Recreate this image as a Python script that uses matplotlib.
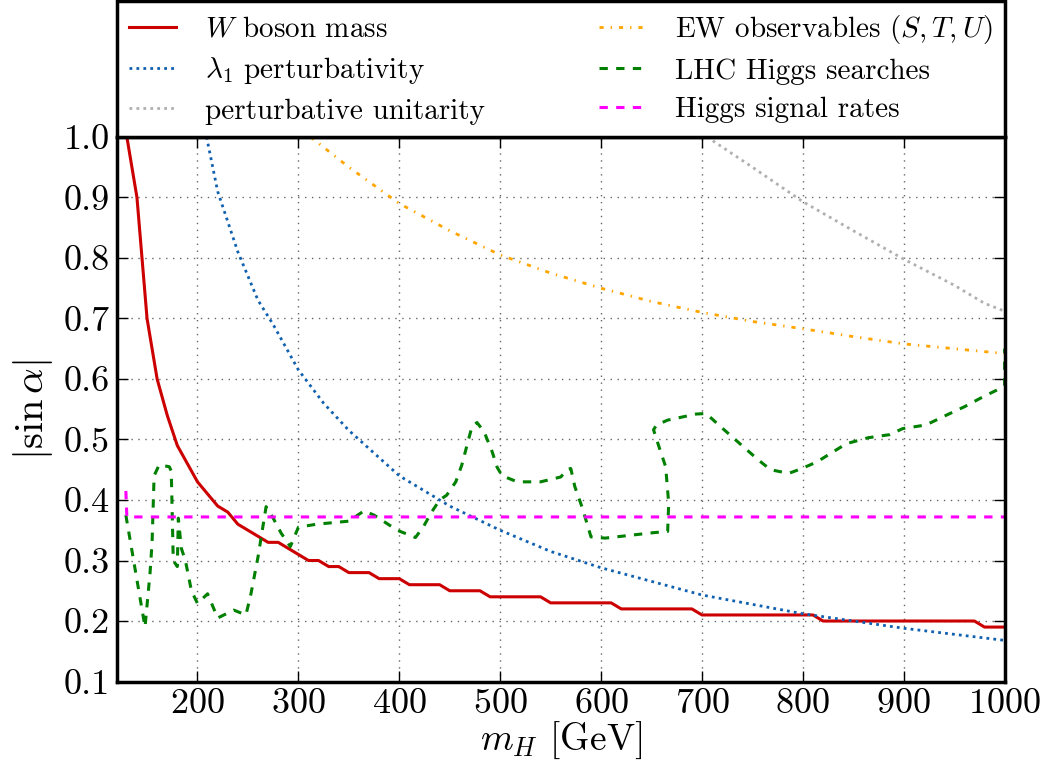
import matplotlib.pyplot as plt
import numpy as np

plt.rcParams['font.family'] = 'cmr10'
plt.rcParams['mathtext.fontset'] = 'cm'
plt.rcParams['axes.formatter.use_mathtext'] = True
plt.rcParams['lines.scale_dashes'] = False

# W boson mass limit, one value every 10 GeV
mass_w = np.arange(130, 1001, 10)
sin_w = [1.00, 0.90, 0.70, 0.60, 0.54, 0.49, 0.46, 0.43, 0.41, 0.39,
         0.38, 0.36, 0.35, 0.34, 0.33, 0.33, 0.32, 0.31, 0.30, 0.30,
         0.29, 0.29, 0.28, 0.28, 0.28, 0.27, 0.27, 0.27, 0.26, 0.26,
         0.26, 0.26, 0.25, 0.25, 0.25, 0.25, 0.24, 0.24, 0.24, 0.24,
         0.24, 0.24, 0.23, 0.23, 0.23, 0.23, 0.23, 0.23, 0.23, 0.22,
         0.22, 0.22, 0.22, 0.22, 0.22, 0.22, 0.22, 0.21, 0.21, 0.21,
         0.21, 0.21, 0.21, 0.21, 0.21, 0.21, 0.21, 0.21, 0.21, 0.20,
         0.20, 0.20, 0.20, 0.20, 0.20, 0.20, 0.20, 0.20, 0.20, 0.20,
         0.20, 0.20, 0.20, 0.20, 0.20, 0.19, 0.19, 0.19]

# lambda_1 perturbativity
mass_lam = [209, 220, 230, 240, 250, 260, 275, 300, 325, 350, 400, 450,
            500, 550, 600, 700, 800, 900, 1000]
sin_lam = [1.00, 0.91, 0.86, 0.81, 0.77, 0.73, 0.69, 0.615, 0.56, 0.515,
           0.44, 0.39, 0.35, 0.315, 0.288, 0.243, 0.212, 0.188, 0.168]

# perturbative unitarity
mass_uni = [705, 750, 800, 850, 900, 950, 980, 1000]
sin_uni = [1.00, 0.95, 0.893, 0.845, 0.798, 0.755, 0.725, 0.712]

# EW observables (S, T, U)
mass_ew = [312, 350, 400, 450, 500, 550, 600, 650, 700, 750, 800, 850,
           900, 950, 1000]
sin_ew = [1.00, 0.95, 0.89, 0.845, 0.805, 0.775, 0.75, 0.728, 0.71, 0.695,
          0.683, 0.67, 0.658, 0.65, 0.642]

# LHC Higgs searches (the contour folds back in m_H)
mass_lhc = [129, 148, 153, 155, 157, 162, 172, 174, 176, 180, 181, 184,
            188, 194, 200, 210, 220, 236, 248, 253, 260, 268, 275, 283,
            292, 300, 318, 350, 365, 375, 398, 416, 424, 432, 440, 447,
            456, 462, 468, 472, 477, 484, 492, 497, 502, 517, 540, 560,
            567, 570, 574, 581, 587, 590, 604, 652, 666, 667, 664, 657,
            652, 655, 666, 694, 704, 722, 741, 756, 768, 786, 799, 814,
            843, 865, 886, 899, 922, 942, 960, 978, 1000, 1000]
sin_lhc = [0.375, 0.19, 0.28, 0.33, 0.44, 0.458, 0.455, 0.448, 0.30, 0.29,
           0.37, 0.32, 0.30, 0.25, 0.229, 0.245, 0.205, 0.218, 0.21, 0.245,
           0.306, 0.389, 0.37, 0.345, 0.323, 0.355, 0.36, 0.365, 0.382,
           0.375, 0.35, 0.338, 0.356, 0.38, 0.40, 0.408, 0.43, 0.458, 0.496,
           0.521, 0.528, 0.513, 0.48, 0.454, 0.44, 0.43, 0.43, 0.438, 0.451,
           0.452, 0.422, 0.389, 0.356, 0.339, 0.337, 0.346, 0.348, 0.395,
           0.455, 0.49, 0.516, 0.524, 0.532, 0.542, 0.543, 0.516, 0.488,
           0.466, 0.45, 0.444, 0.452, 0.463, 0.493, 0.503, 0.508, 0.518,
           0.524, 0.54, 0.554, 0.57, 0.588, 0.65]

# Higgs signal rates
mass_sig = [129, 130, 1000]
sin_sig = [0.415, 0.372, 0.372]

fig = plt.figure(figsize=(10.52, 7.78), dpi=100)
ax = fig.add_axes([0.111, 0.124, 0.844, 0.700])

ax.plot(mass_w, sin_w, color='#cc0000', lw=2.2, label=r'$W$ boson mass')
ax.plot(mass_lam, sin_lam, color='#1060b0', lw=2.0, dashes=(2, 3),
        label=r'$\lambda_1$ perturbativity')
ax.plot(mass_uni, sin_uni, color='#b0b0b0', lw=2.0, dashes=(2, 3),
        label='perturbative unitarity')
ax.plot(mass_ew, sin_ew, color='orange', lw=2.0, dashes=(3, 5, 1, 5),
        label=r'EW observables $(S,T,U)$')
ax.plot(mass_lhc, sin_lhc, color='green', lw=2.2, dashes=(6, 6),
        label='LHC Higgs searches')
ax.plot(mass_sig, sin_sig, color='magenta', lw=2.2, dashes=(6, 6),
        label='Higgs signal rates')

ax.set_xlim(120, 1000)
ax.set_ylim(0.1, 1.0)
ax.set_xticks(np.arange(200, 1001, 100))
ax.set_yticks(np.arange(0.1, 1.01, 0.1))
ax.set_yticklabels(['%.1f' % v for v in np.arange(0.1, 1.01, 0.1)])
ax.tick_params(direction='in', length=8, width=1, top=True, right=True,
               labelsize=26, pad=5)
ax.grid(True, color='0.4', lw=1.0, dashes=(1, 4))
for s in ax.spines.values():
    s.set_linewidth(2.5)

ax.set_xlabel(r'$m_H$ [GeV]', fontsize=27, labelpad=0)
ax.set_ylabel(r'$|\sin\alpha|$', fontsize=29, labelpad=6)

leg = ax.legend(loc='lower left', bbox_to_anchor=(0, 1, 1, 0.246),
                mode='expand', ncol=2, borderaxespad=0, fontsize=21,
                handlelength=1.6, handletextpad=1.0, labelspacing=0.42,
                borderpad=0.42, fancybox=False, framealpha=1)
leg.get_frame().set_edgecolor('black')
leg.get_frame().set_linewidth(2.5)

fig.savefig('out.png', dpi=100)
